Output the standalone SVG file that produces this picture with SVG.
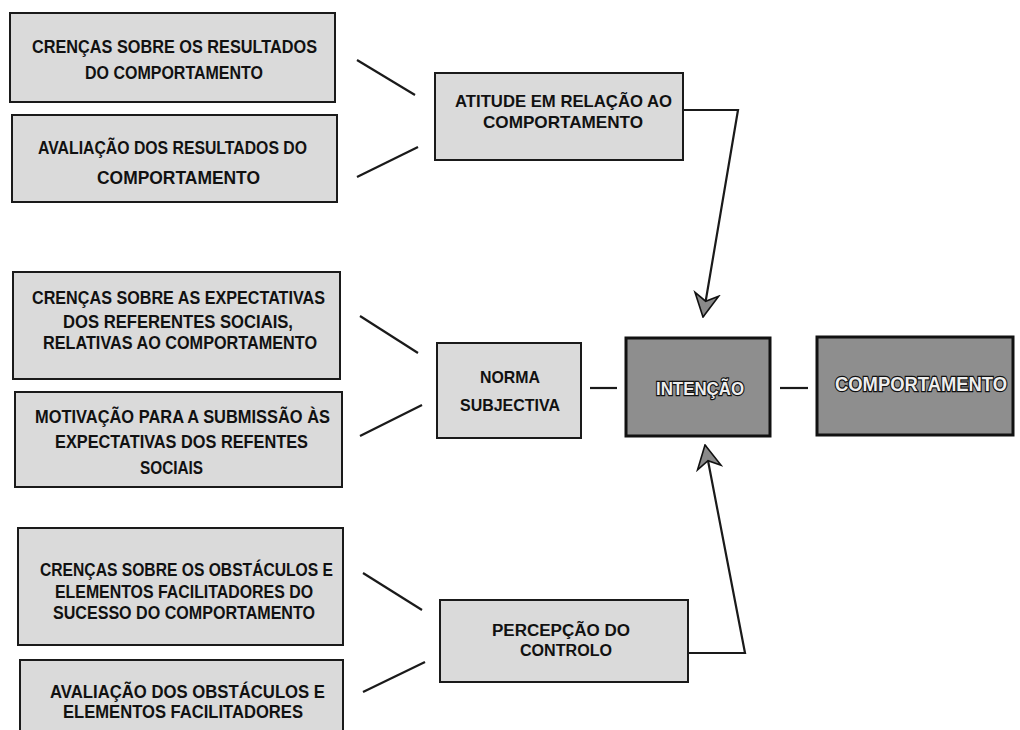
<svg xmlns="http://www.w3.org/2000/svg" width="1020" height="730" viewBox="0 0 1020 730">
<style>
.box{fill:#dadada;stroke:#1a1a1a;stroke-width:2}
.dark{fill:#8e8e8e;stroke:#111;stroke-width:3}
.t{font-family:"Liberation Sans",Arial,sans-serif;font-weight:bold;font-size:18px;fill:#111;text-anchor:middle}
.s{font-size:17px}
.x{font-size:16px}
.o{fill:#eeeeee;stroke:#111;stroke-width:2.4;paint-order:stroke;font-size:19px}
.c{fill:none;stroke:#1a1a1a;stroke-width:2.2}
</style>
<defs>
<marker id="arr" markerUnits="userSpaceOnUse" viewBox="0 0 26 28" refX="25" refY="14" markerWidth="26" markerHeight="28" orient="auto">
<path d="M25,14 L2,2 L9,14 L2,26 Z" fill="#8a8a8a" stroke="#111" stroke-width="1.6" stroke-linejoin="miter"/>
</marker>
</defs>
<rect width="1020" height="730" fill="#ffffff"/>

<g id="connectors">
<line class="c" x1="357" y1="60" x2="415" y2="95" stroke="#444"/>
<line class="c" x1="357" y1="177" x2="418" y2="147"/>
<line class="c" x1="360" y1="316" x2="418" y2="353"/>
<line class="c" x1="360" y1="436" x2="422" y2="405"/>
<line class="c" x1="363" y1="573" x2="422" y2="610"/>
<line class="c" x1="363" y1="692" x2="425" y2="662"/>
<line class="c" x1="590" y1="388" x2="617" y2="388"/>
<line class="c" x1="780" y1="388" x2="808" y2="388" stroke-width="3"/>
<polyline class="c" points="683,110 738,110 703,317" marker-end="url(#arr)"/>
<polyline class="c" points="688,653 745,653 705,445" marker-end="url(#arr)"/>
</g>

<g id="crencas-resultados">
<rect class="box" x="10" y="13" width="325" height="89"/>
<text class="t" x="174.5" y="53" textLength="285" lengthAdjust="spacingAndGlyphs">CRENÇAS SOBRE OS RESULTADOS</text>
<text class="t" x="174" y="79" textLength="178" lengthAdjust="spacingAndGlyphs">DO COMPORTAMENTO</text>
</g>

<g id="avaliacao-resultados">
<rect class="box" x="12" y="115" width="325" height="87"/>
<text class="t" x="172.5" y="154" textLength="269" lengthAdjust="spacingAndGlyphs">AVALIAÇÃO DOS RESULTADOS DO</text>
<text class="t" x="178.5" y="184" textLength="163" lengthAdjust="spacingAndGlyphs">COMPORTAMENTO</text>
</g>

<g id="atitude">
<rect class="box" x="435" y="73" width="248" height="87"/>
<text class="t s" x="563.5" y="107" textLength="217" lengthAdjust="spacingAndGlyphs">ATITUDE EM RELAÇÃO AO</text>
<text class="t s" x="563" y="128" textLength="160" lengthAdjust="spacingAndGlyphs">COMPORTAMENTO</text>
</g>

<g id="crencas-expectativas">
<rect class="box" x="13" y="272" width="327" height="107"/>
<text class="t" x="178.5" y="304" textLength="293" lengthAdjust="spacingAndGlyphs">CRENÇAS SOBRE AS EXPECTATIVAS</text>
<text class="t" x="178" y="328" textLength="230" lengthAdjust="spacingAndGlyphs">DOS REFERENTES SOCIAIS,</text>
<text class="t" x="180" y="349" textLength="274" lengthAdjust="spacingAndGlyphs">RELATIVAS AO COMPORTAMENTO</text>
</g>

<g id="motivacao">
<rect class="box" x="15" y="392" width="327" height="95"/>
<text class="t" x="182.5" y="423" textLength="295" lengthAdjust="spacingAndGlyphs">MOTIVAÇÃO PARA A SUBMISSÃO ÀS</text>
<text class="t" x="181.5" y="448" textLength="253" lengthAdjust="spacingAndGlyphs">EXPECTATIVAS DOS REFENTES</text>
<text class="t" x="171.5" y="474" textLength="63" lengthAdjust="spacingAndGlyphs">SOCIAIS</text>
</g>

<g id="norma">
<rect class="box" x="437" y="343" width="144" height="95"/>
<text class="t s" x="510" y="383" textLength="60" lengthAdjust="spacingAndGlyphs">NORMA</text>
<text class="t s" x="510" y="411" textLength="100" lengthAdjust="spacingAndGlyphs">SUBJECTIVA</text>
</g>

<g id="crencas-obstaculos">
<rect class="box" x="18" y="528" width="325" height="117"/>
<text class="t" x="186.5" y="576" textLength="293" lengthAdjust="spacingAndGlyphs">CRENÇAS SOBRE OS OBSTÁCULOS E</text>
<text class="t" x="184" y="598" textLength="258" lengthAdjust="spacingAndGlyphs">ELEMENTOS FACILITADORES DO</text>
<text class="t" x="184" y="619" textLength="262" lengthAdjust="spacingAndGlyphs">SUCESSO DO COMPORTAMENTO</text>
</g>

<g id="avaliacao-obstaculos">
<rect class="box" x="20" y="660" width="323" height="80"/>
<text class="t" x="187.5" y="698" textLength="275" lengthAdjust="spacingAndGlyphs">AVALIAÇÃO DOS OBSTÁCULOS E</text>
<text class="t" x="183" y="718" textLength="240" lengthAdjust="spacingAndGlyphs">ELEMENTOS FACILITADORES</text>
</g>

<g id="percepcao">
<rect class="box" x="440" y="600" width="248" height="82"/>
<text class="t x" x="561" y="636" textLength="138" lengthAdjust="spacingAndGlyphs">PERCEPÇÃO DO</text>
<text class="t x" x="566" y="656" textLength="92" lengthAdjust="spacingAndGlyphs">CONTROLO</text>
</g>

<g id="intencao">
<rect class="dark" x="626" y="338" width="144" height="98"/>
<text class="t o" x="700" y="395" textLength="88" lengthAdjust="spacingAndGlyphs">INTENÇÃO</text>
</g>

<g id="comportamento">
<rect class="dark" x="817" y="337" width="196" height="98"/>
<text class="t o" x="921" y="391" style="font-size:20px" textLength="172" lengthAdjust="spacingAndGlyphs">COMPORTAMENTO</text>
</g>
</svg>
